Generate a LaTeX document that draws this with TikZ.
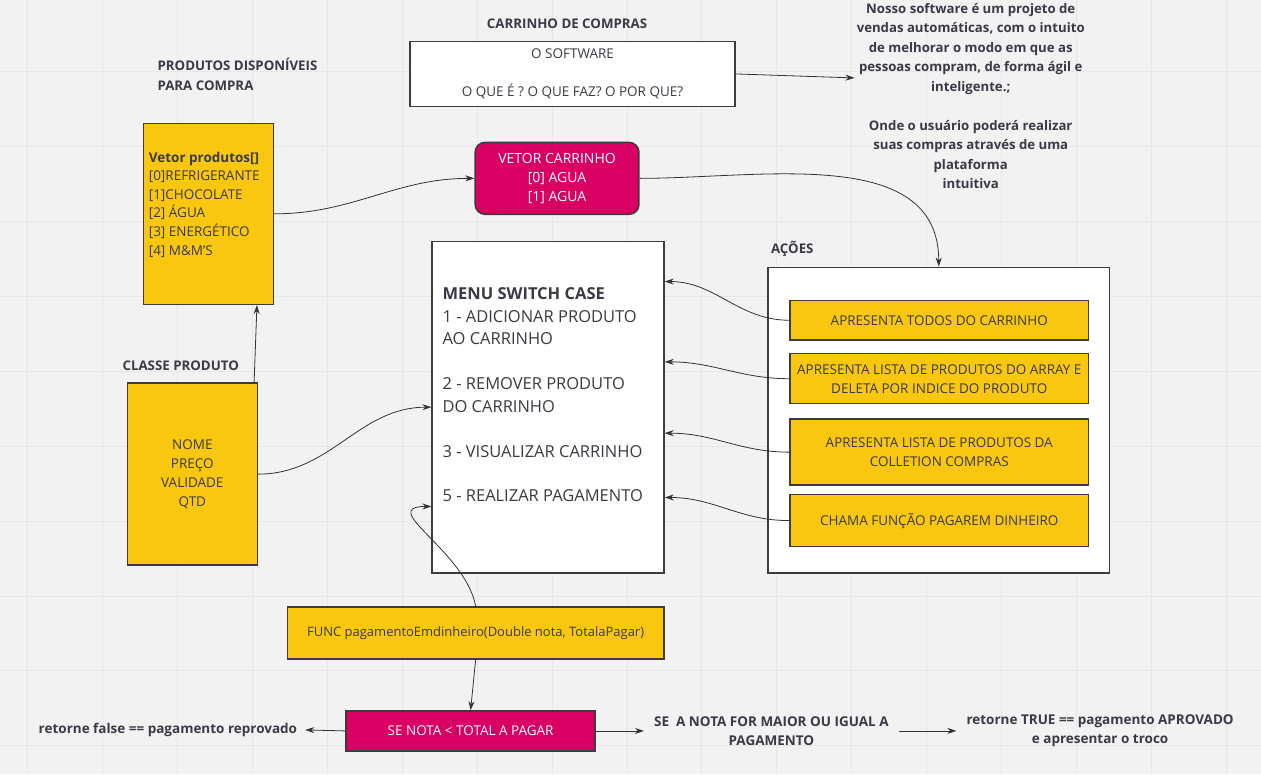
\documentclass[tikz,border=0pt]{standalone}
\usepackage{fontspec}
\setmainfont{Open Sans}
\usepackage{tikz}
\usetikzlibrary{arrows.meta, positioning, calc}

\definecolor{boardbg}{HTML}{F2F2F2}
\definecolor{boardgrid}{HTML}{E7E7E7}
\definecolor{stickyyellow}{HTML}{FAC710}
\definecolor{stickypink}{HTML}{DA0063}
\definecolor{inkgray}{HTML}{3A3A46}
\definecolor{framegray}{HTML}{3C3C3C}

\newcommand{\fsz}[2]{\fontsize{#1}{#2}\selectfont}

\tikzstyle{whitebox} = [rectangle, draw=framegray, line width=1.5pt, fill=white, text=inkgray, align=center, inner sep=0pt, font=\fsz{13.5}{19}]
\tikzstyle{yellowbox} = [rectangle, draw=framegray, line width=1.5pt, fill=stickyyellow, text=inkgray, align=center, inner sep=0pt, font=\fsz{13.5}{19}]
\tikzstyle{pinkbox} = [rectangle, draw=framegray, line width=1.5pt, fill=stickypink, text=white, align=center, inner sep=0pt, font=\fsz{14}{19}]
\tikzstyle{boardlabel} = [text=inkgray, font=\bfseries\fsz{13.3}{20}, inner sep=2pt]
\tikzstyle{arrow} = [line width=0.8pt, draw=black!80, -{Stealth[length=9pt,width=6pt]}]

\begin{document}
\begin{tikzpicture}[x=1pt, y=-1pt]
  % Quadro de fundo
  \fill[boardbg] (0,0) rectangle (1261,774);
  \foreach \gx in {27,102,...,1250} \draw[boardgrid, line width=1pt] (\gx,0) -- (\gx,774);
  \foreach \gy in {71,146,...,774} \draw[boardgrid, line width=1pt] (0,\gy) -- (1261,\gy);
  \useasboundingbox (0,0) rectangle (1261,774);

  % O software
  \node[boardlabel] (cartlabel) at (567,23) {CARRINHO DE COMPRAS};
  \node[whitebox, minimum width=325pt, minimum height=65pt] (software) at (572.5,73.5) {O SOFTWARE\\[19pt]O QUE É ? O QUE FAZ? O POR QUE?};
  \node[boardlabel, align=center, font=\bfseries\fsz{13.2}{19.5}] (about) at (971,95.5) {Nosso software é um projeto de\\vendas automáticas, com o intuito\\de melhorar o modo em que as\\pessoas compram, de forma ágil e\\inteligente.;\\[19.5pt]Onde o usuário poderá realizar\\suas compras através de uma\\plataforma\\intuitiva};

  % Produtos
  \node[boardlabel, align=left, anchor=west] (prodlabel) at (155,74) {PRODUTOS DISPONÍVEIS\\PARA COMPRA};
  \node[yellowbox, minimum width=130pt, minimum height=181pt] (vetor) at (208,213.5) {};
  \node[text=inkgray, font=\fsz{13.5}{18.6}, align=left, inner sep=2pt, below right=27pt and 4pt of vetor.north west] (vetorlist) {\textbf{Vetor produtos[]}\\{[0]}REFRIGERANTE\\{[1]}CHOCOLATE\\{[2]} ÁGUA\\{[3]} ENERGÉTICO\\{[4]} M\&M'S};
  \node[pinkbox, rounded corners=10pt, minimum width=164pt, minimum height=72pt] (vetorcart) at (557,178) {VETOR CARRINHO\\{[0]} AGUA\\{[1]} AGUA};

  % Menu
  \node[whitebox, minimum width=232pt, minimum height=332pt] (menu) at (548,407) {};
  \node[text=inkgray, font=\fsz{16.5}{22.5}, align=left, inner sep=2pt, below right=45pt and 9pt of menu.north west] (menutext) {\textbf{MENU SWITCH CASE}\\1 - ADICIONAR PRODUTO\\AO CARRINHO\\[22.5pt]2 - REMOVER PRODUTO\\DO CARRINHO\\[22.5pt]3 - VISUALIZAR CARRINHO\\[22.5pt]5 - REALIZAR PAGAMENTO};

  % Ações
  \node[boardlabel, anchor=west] (acoeslabel) at (769,249) {AÇÕES};
  \node[whitebox, minimum width=342pt, minimum height=306pt] (acoes) at (939,420) {};
  \node[yellowbox, minimum width=299pt, minimum height=40pt] (act1) at (939.5,320) {APRESENTA TODOS DO CARRINHO};
  \node[yellowbox, minimum width=299pt, minimum height=50pt, below=12pt of act1] (act2) {APRESENTA LISTA DE PRODUTOS DO ARRAY E\\DELETA POR INDICE DO PRODUTO};
  \node[yellowbox, minimum width=299pt, minimum height=66pt, below=14pt of act2] (act3) {APRESENTA LISTA DE PRODUTOS DA\\COLLETION COMPRAS};
  \node[yellowbox, minimum width=299pt, minimum height=52pt, below=8pt of act3] (act4) {CHAMA FUNÇÃO PAGAREM DINHEIRO};

  % Classe produto
  \node[boardlabel, anchor=west] (classelabel) at (120,366) {CLASSE PRODUTO};
  \node[yellowbox, minimum width=130pt, minimum height=182pt] (classe) at (192,474) {NOME\\PREÇO\\VALIDADE\\QTD};

  % Pagamento
  \node[yellowbox, minimum width=377pt, minimum height=52pt, font=\fsz{13}{18}] (func) at (475.5,633) {FUNC pagamentoEmdinheiro(Double nota, TotalaPagar)};
  \node[pinkbox, minimum width=249pt, minimum height=40pt, font=\fsz{13.5}{18}] (senota) at (470.5,731) {SE NOTA < TOTAL A PAGAR};
  \node[boardlabel, anchor=east, inner xsep=8pt, font=\bfseries\fsz{13.5}{19}] (reprovado) at (305,730) {retorne false == pagamento reprovado};
  \node[boardlabel, align=center, inner xsep=10pt, font=\bfseries\fsz{13.5}{19}] (maior) at (771.5,731) {SE\ \ A NOTA FOR MAIOR OU IGUAL A\\PAGAMENTO};
  \node[boardlabel, align=center, inner xsep=10pt, font=\bfseries\fsz{13.5}{19}] (aprovado) at (1100.5,731) {retorne TRUE == pagamento APROVADO\\e apresentar o troco};

  % Setas
  \draw[arrow] (software.east) -- ($(software.east -| about.west)+(0,4)$);
  \draw[arrow] (vetor.east) to[out=0, in=180] (vetorcart.west);
  \draw[arrow] (vetorcart.east) to[out=0, in=90] (acoes.north);
  \draw[arrow] ($(classe.north west)!0.97!(classe.north east)$) -- ($(vetor.south west)!0.87!(vetor.south east)$);
  \draw[arrow] (classe.east) to[out=0, in=180] (menu.west);

  \draw[arrow] (act1.west) to[out=180, in=0] ($(menu.north east)!0.123!(menu.south east)$);
  \draw[arrow] (act2.west) to[out=180, in=0] ($(menu.north east)!0.364!(menu.south east)$);
  \draw[arrow] (act3.west) to[out=180, in=0] ($(menu.north east)!0.578!(menu.south east)$);
  \draw[arrow] (act4.west) to[out=180, in=0] ($(menu.north east)!0.771!(menu.south east)$);

  \draw[arrow] (func.north) to[out=100, in=180, looseness=1.3] ($(menu.north west)!0.798!(menu.south west)$);
  \draw[arrow] (func.south) -- (senota.north);
  \draw[arrow] (senota.west) -- (reprovado.east);
  \draw[arrow] (senota.east) -- (maior.west);
  \draw[arrow] (maior.east) -- (aprovado.west);
\end{tikzpicture}
\end{document}
